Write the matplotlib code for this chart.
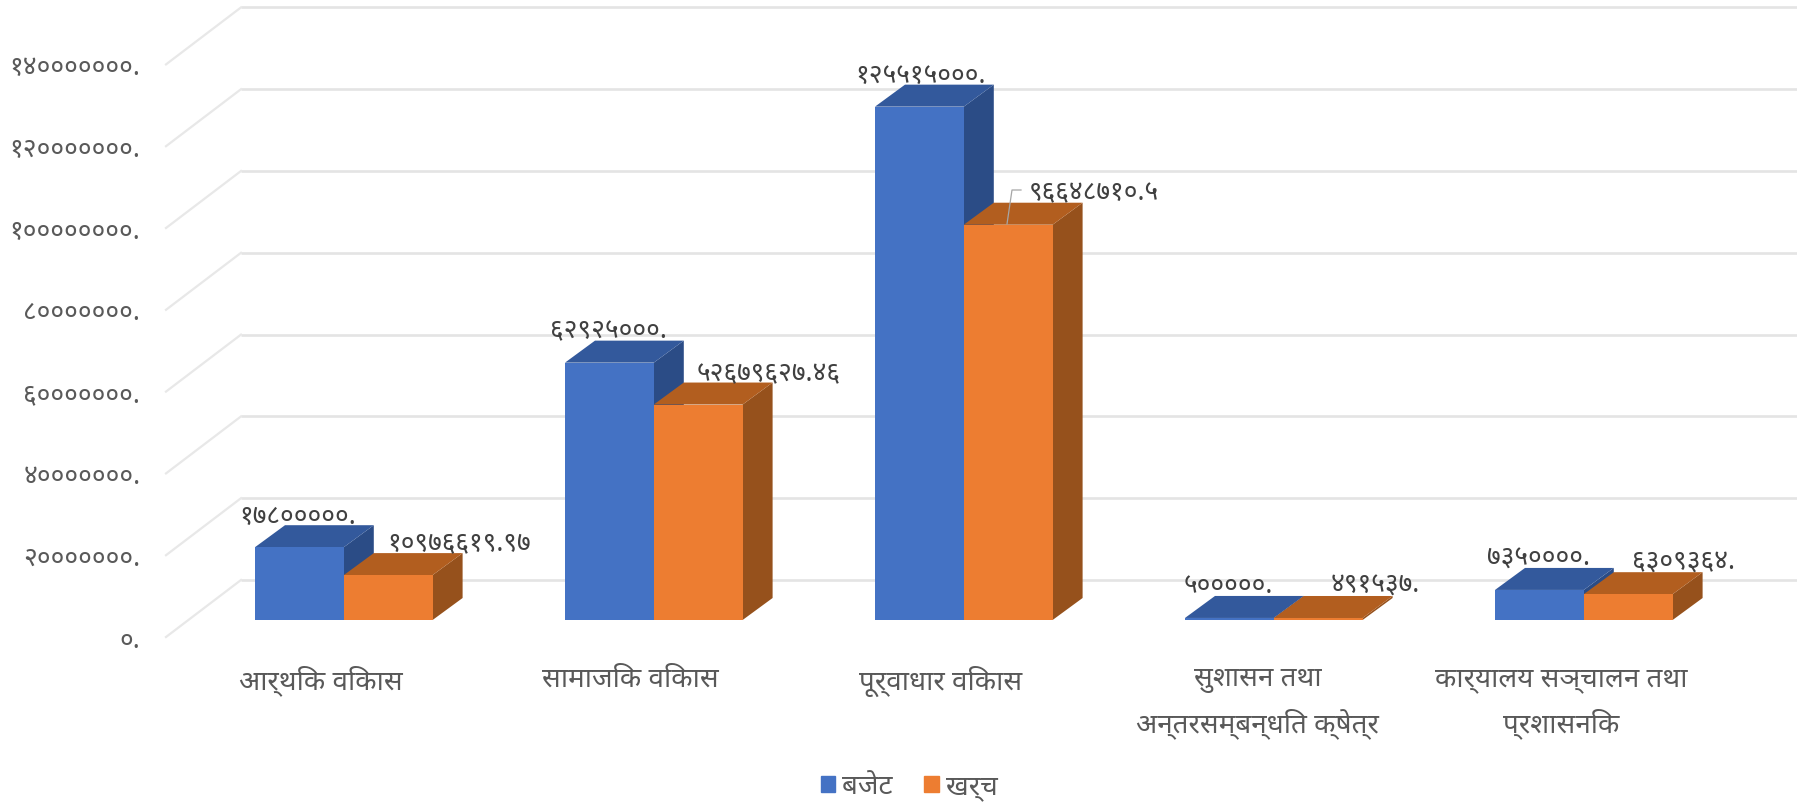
import matplotlib
matplotlib.use('Agg')
import matplotlib.pyplot as plt
from matplotlib.patches import Patch
from matplotlib.transforms import Affine2D, ScaledTranslation

plt.rcParams['font.family'] = ['Noto Sans', 'DejaVu Sans']

# ---- data ----
categories = ['आर्थिक विकास', 'सामाजिक विकास', 'पूर्वाधार विकास',
              'सुशासन तथा\nअन्तरसम्बन्धित क्षेत्र', 'कार्यालय सञ्चालन तथा\nप्रशासनिक']
budget = [17800000, 62925000, 125515000, 500000, 7350000]
expense = [10976619.97, 52679627.46, 96648710.5, 491537, 6309364]
budget_labels = ['१७८०००००.', '६२९२५०००.', '१२५५१५०००.', '५०००००.', '७३५००००.']
expense_labels = ['१०९७६६१९.९७', '५२६७९६२७.४६', '९६६४८७१०.५', '४९१५३७.', '६३०९३६४.']
tick_values = [0, 20000000, 40000000, 60000000, 80000000, 100000000, 120000000, 140000000]
tick_labels = ['०.', '२०००००००.', '४०००००००.', '६०००००००.', '८०००००००.',
               '१००००००००.', '१२०००००००.', '१४०००००००.']
series_names = ['बजेट', 'खर्च']

# ---- layout (pixels of the 1797x805 figure) ----
W, H = 1797, 805
PX_CAT = 310.0           # pixels per category
PX_20M = 81.8            # pixels per 20 million
X0_PX, Y0_PX = 343.8, 620.0   # pixel of category 0 / value 0 on the bar front plane
AX_L, AX_B = 150, 655
BAR_W = 88.8 / PX_CAT
DX, DY = 30 / PX_CAT, 22 * 2e7 / PX_20M
dxp, dyp = 1 / PX_CAT, 2e7 / PX_20M

fig = plt.figure(figsize=(W / 100, H / 100), dpi=100, facecolor='white')
ax = fig.add_axes([AX_L / W, 1 - AX_B / H, 1 - AX_L / W, AX_B / H])
ax.set_xlim((AX_L - X0_PX) * dxp, (W - X0_PX) * dxp)
ax.set_ylim((Y0_PX - AX_B) * dyp, Y0_PX * dyp)
ax.patch.set_alpha(0)
for s in ax.spines.values():
    s.set_visible(False)

px = Affine2D().scale(1 / W, -1 / H).translate(0, 1) + fig.transFigure

# walls
GRID = '#e4e4e4'
back_x0 = (241 - X0_PX) * dxp
front_x0 = (166 - X0_PX) * dxp
for v in tick_values:
    ax.plot([back_x0, ax.get_xlim()[1]], [v + 40 * dyp] * 2, color=GRID, lw=1.9, zorder=1, solid_capstyle='butt')
    ax.plot([front_x0, back_x0], [v - 17 * dyp, v + 40 * dyp], color='#e8e8e8', lw=1.6, zorder=1, clip_on=False)

# 3D bars
def box(x, v, front, top, side):
    ax.fill([x + BAR_W, x + BAR_W + DX, x + BAR_W + DX, x + BAR_W],
            [0, DY, v + DY, v], color=side, lw=0, zorder=3)
    ax.fill([x, x + DX, x + BAR_W + DX, x + BAR_W],
            [v, v + DY, v + DY, v], color=top, lw=0, zorder=3)
    ax.bar(x, v, width=BAR_W, align='edge', color=front, lw=0, zorder=3)

for i, (b, e) in enumerate(zip(budget, expense)):
    box(i - BAR_W, b, '#4472C4', '#33599C', '#2B4C86')
    box(i, e, '#ED7D31', '#B25E1F', '#96511C')

# data labels
TXT = '#404040'
blue_pos = [(298, 517), (608, 331), (920, 76), (1228, 586), (1538, 559)]
orange_pos = [(459, 543), (769, 374), (1094, 193), (1375, 586), (1684, 562)]
for (x, y), s in zip(blue_pos, budget_labels):
    ax.text(x, y, s, transform=px, ha='center', va='center', fontsize=19, color=TXT, zorder=5)
for (x, y), s in zip(orange_pos, expense_labels):
    ax.text(x, y, s, transform=px, ha='center', va='center', fontsize=19, color=TXT, zorder=5)
ax.plot([1007, 1012, 1021], [224, 190, 190], transform=px, color='#a6a6a6', lw=0.9, zorder=5)

# axes labels
ax.set_yticks(tick_values, tick_labels)
ax.tick_params(axis='y', length=0, pad=7, labelsize=19, labelcolor='#595959')
for lab in ax.get_yticklabels():
    lab.set_transform(lab.get_transform() + ScaledTranslation(0, -17 / 100, fig.dpi_scale_trans))
ax.set_xticks(range(len(categories)), categories)
ax.tick_params(axis='x', length=0, pad=7.5, labelsize=20, labelcolor='#595959')
label_shift_px = [-23, -23, -23, -16, -23]
for lab, sh in zip(ax.get_xticklabels(), label_shift_px):
    lab.set_linespacing(1.65)
    lab.set_transform(lab.get_transform() + ScaledTranslation(sh / 100, 0, fig.dpi_scale_trans))

# legend
handles = [Patch(color='#4472C4', label=series_names[0]), Patch(color='#ED7D31', label=series_names[1])]
fig.legend(handles=handles, loc='center', bbox_to_anchor=(909 / W, 1 - 787 / H), ncol=2, frameon=False,
           fontsize=20, labelcolor='#595959', handlelength=0.52, handleheight=0.52,
           handletextpad=0.25, columnspacing=1.15)

fig.savefig('out.png', dpi=100)
